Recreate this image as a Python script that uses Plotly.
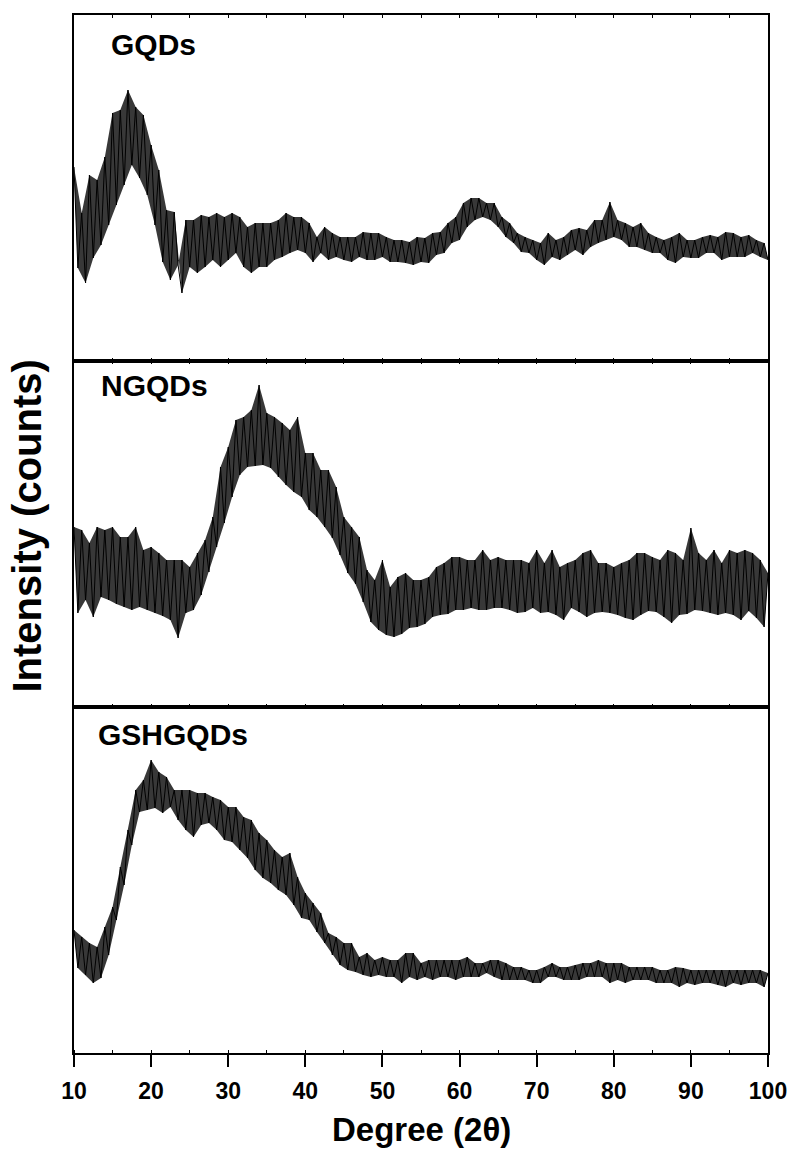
import plotly.graph_objects as go
from plotly.subplots import make_subplots

# 2-theta grid (degrees), one reading every 0.5 degree
two_theta = [round(10 + 0.5 * i, 1) for i in range(181)]

# Intensities (arbitrary counts)
gqds = [
    194, 93, 148, 78, 186, 103, 181, 116, 204, 136,
    248, 156, 251, 176, 271, 196, 254, 183, 246, 166,
    216, 136, 191, 99, 151, 81, 149, 96, 68, 141,
    94, 141, 88, 146, 94, 144, 101, 148, 94, 144,
    101, 148, 108, 144, 94, 134, 88, 138, 94, 138,
    94, 138, 101, 141, 104, 148, 108, 144, 111, 144,
    108, 138, 99, 124, 108, 134, 101, 128, 104, 124,
    101, 124, 99, 124, 104, 129, 101, 128, 101, 128,
    104, 124, 99, 121, 99, 121, 98, 119, 96, 124,
    99, 123, 98, 128, 106, 129, 108, 138, 118, 144,
    121, 158, 134, 163, 141, 163, 144, 158, 141, 158,
    134, 144, 124, 138, 118, 128, 109, 124, 108, 121,
    101, 118, 96, 128, 104, 121, 101, 124, 106, 131,
    111, 133, 106, 131, 114, 141, 118, 141, 121, 159,
    124, 141, 121, 138, 114, 134, 114, 138, 111, 128,
    108, 124, 108, 121, 101, 124, 98, 128, 104, 121,
    103, 121, 103, 124, 108, 126, 108, 124, 101, 129,
    104, 128, 104, 124, 104, 126, 108, 121, 104, 118,
    101,
]

ngqds = [
    183, 97, 180, 110, 167, 93, 183, 113, 180, 110,
    183, 106, 173, 103, 173, 100, 183, 103, 160, 100,
    163, 97, 157, 94, 150, 90, 150, 72, 150, 97,
    143, 100, 157, 115, 170, 138, 193, 163, 243, 187,
    263, 213, 290, 235, 293, 243, 300, 244, 325, 245,
    297, 242, 293, 233, 287, 225, 280, 218, 293, 213,
    257, 200, 257, 193, 240, 183, 240, 172, 223, 155,
    193, 137, 183, 126, 173, 108, 140, 88, 130, 80,
    150, 75, 123, 73, 133, 76, 137, 82, 130, 83,
    130, 86, 133, 93, 143, 95, 147, 96, 153, 100,
    153, 100, 150, 102, 150, 100, 160, 100, 150, 102,
    153, 102, 150, 100, 150, 97, 150, 98, 147, 102,
    160, 97, 147, 98, 160, 95, 143, 90, 147, 102,
    150, 98, 157, 93, 160, 97, 147, 98, 147, 97,
    143, 95, 147, 92, 150, 90, 157, 95, 157, 99,
    153, 98, 150, 93, 160, 87, 157, 95, 150, 96,
    182, 100, 157, 99, 150, 97, 160, 95, 147, 97,
    160, 95, 157, 90, 160, 99, 157, 92, 150, 83,
    137,
]

gshgqds = [
    123, 85, 116, 78, 110, 70, 106, 75, 126, 98,
    146, 133, 186, 168, 223, 208, 263, 241, 273, 243,
    293, 245, 281, 240, 276, 246, 263, 233, 263, 223,
    263, 216, 260, 228, 260, 230, 256, 223, 253, 213,
    246, 211, 246, 203, 236, 195, 233, 183, 220, 175,
    213, 170, 203, 163, 196, 158, 200, 148, 176, 135,
    160, 133, 150, 121, 140, 110, 120, 98, 116, 88,
    110, 83, 110, 81, 96, 78, 100, 76, 93, 78,
    96, 76, 93, 76, 93, 70, 100, 76, 100, 73,
    90, 76, 93, 73, 93, 76, 93, 76, 93, 73,
    93, 76, 96, 76, 90, 76, 90, 80, 93, 76,
    93, 73, 90, 73, 86, 73, 86, 73, 83, 70,
    83, 70, 86, 76, 90, 76, 86, 73, 86, 73,
    88, 73, 90, 76, 90, 76, 93, 76, 90, 70,
    90, 73, 90, 70, 86, 73, 86, 73, 86, 73,
    86, 70, 83, 70, 83, 70, 86, 66, 85, 70,
    83, 68, 83, 70, 83, 70, 83, 68, 83, 66,
    83, 70, 83, 68, 83, 70, 83, 70, 83, 66,
    80,
]

sample_names = ["GQDs", "NGQDs", "GSHGQDs"]
series = [gqds, ngqds, gshgqds]
x_ticks = [10, 20, 30, 40, 50, 60, 70, 80, 90, 100]

FONT = "Arial, Liberation Sans, Helvetica, sans-serif"

fig = make_subplots(rows=3, cols=1, shared_xaxes=True, vertical_spacing=0)

for i, (name, ys) in enumerate(zip(sample_names, series)):
    row = i + 1
    # dense noise band: region swept between alternate readings
    fig.add_trace(go.Scatter(x=two_theta[0::2], y=ys[0::2], mode="lines",
                             line=dict(width=0, color="black"), hoverinfo="skip",
                             showlegend=False), row=row, col=1)
    fig.add_trace(go.Scatter(x=two_theta[1::2], y=ys[1::2], mode="lines",
                             line=dict(width=0, color="black"), fill="tonexty",
                             fillcolor="rgba(0,0,0,0.78)", hoverinfo="skip",
                             showlegend=False), row=row, col=1)
    fig.add_trace(go.Scatter(x=two_theta, y=ys, mode="lines", name=name,
                             line=dict(color="black", width=1), showlegend=False),
                  row=row, col=1)

y_ranges = [[0, 346], [3, 349], [0, 346]]
for r in range(1, 4):
    fig.update_yaxes(row=r, col=1, range=y_ranges[r - 1], showticklabels=False,
                     ticks="", showline=True, linecolor="black", linewidth=2,
                     mirror=True, showgrid=False, zeroline=False, automargin=False)

for r in (1, 2):
    fig.update_xaxes(row=r, col=1, range=[10, 100], showline=True, linecolor="black",
                     linewidth=2, mirror="ticks", showgrid=False, zeroline=False,
                     ticks="inside", dtick=5, tick0=10, ticklen=3, tickwidth=1,
                     tickcolor="black", showticklabels=False, automargin=False)

fig.update_xaxes(row=3, col=1, range=[10, 100], showline=True, linecolor="black",
                 linewidth=2, mirror=True, showgrid=False, zeroline=False,
                 ticks="outside", ticklen=12, tickwidth=2, tickcolor="black",
                 tickvals=x_ticks, ticktext=[f"<b>{t}</b>" for t in x_ticks],
                 tickfont=dict(family=FONT, size=23, color="black"),
                 ticklabelstandoff=4, automargin=False,
                 minor=dict(ticks="inside", dtick=5, tick0=10, ticklen=3,
                            tickwidth=1, tickcolor="black"))

label_pos = [(0.050, 0.972), (0.0365, 0.643), (0.032, 0.307)]
annotations = []
for name, (ax, ay) in zip(sample_names, label_pos):
    annotations.append(dict(text=f"<b>{name}</b>", xref="paper", yref="paper",
                            x=ax, y=ay, xanchor="left", yanchor="middle",
                            showarrow=False,
                            font=dict(family=FONT, size=30, color="black")))

annotations.append(dict(text="<b>Degree (2θ)</b>", xref="paper", yref="paper",
                        x=0.5, y=-0.074, xanchor="center", yanchor="middle",
                        showarrow=False, font=dict(family=FONT, size=33, color="black")))
annotations.append(dict(text="<b>Intensity (counts)</b>", xref="paper", yref="paper",
                        x=-0.068, y=0.508, xanchor="center", yanchor="middle",
                        textangle=-90, showarrow=False,
                        font=dict(family=FONT, size=40, color="black")))

fig.update_layout(width=791, height=1153, paper_bgcolor="white", plot_bgcolor="white",
                  margin=dict(l=74, r=23, t=15, b=100, autoexpand=False),
                  annotations=annotations)

fig.write_html("out.html", config={"displayModeBar": False},
               post_script="document.body.style.margin='0';document.body.style.overflow='hidden';")
